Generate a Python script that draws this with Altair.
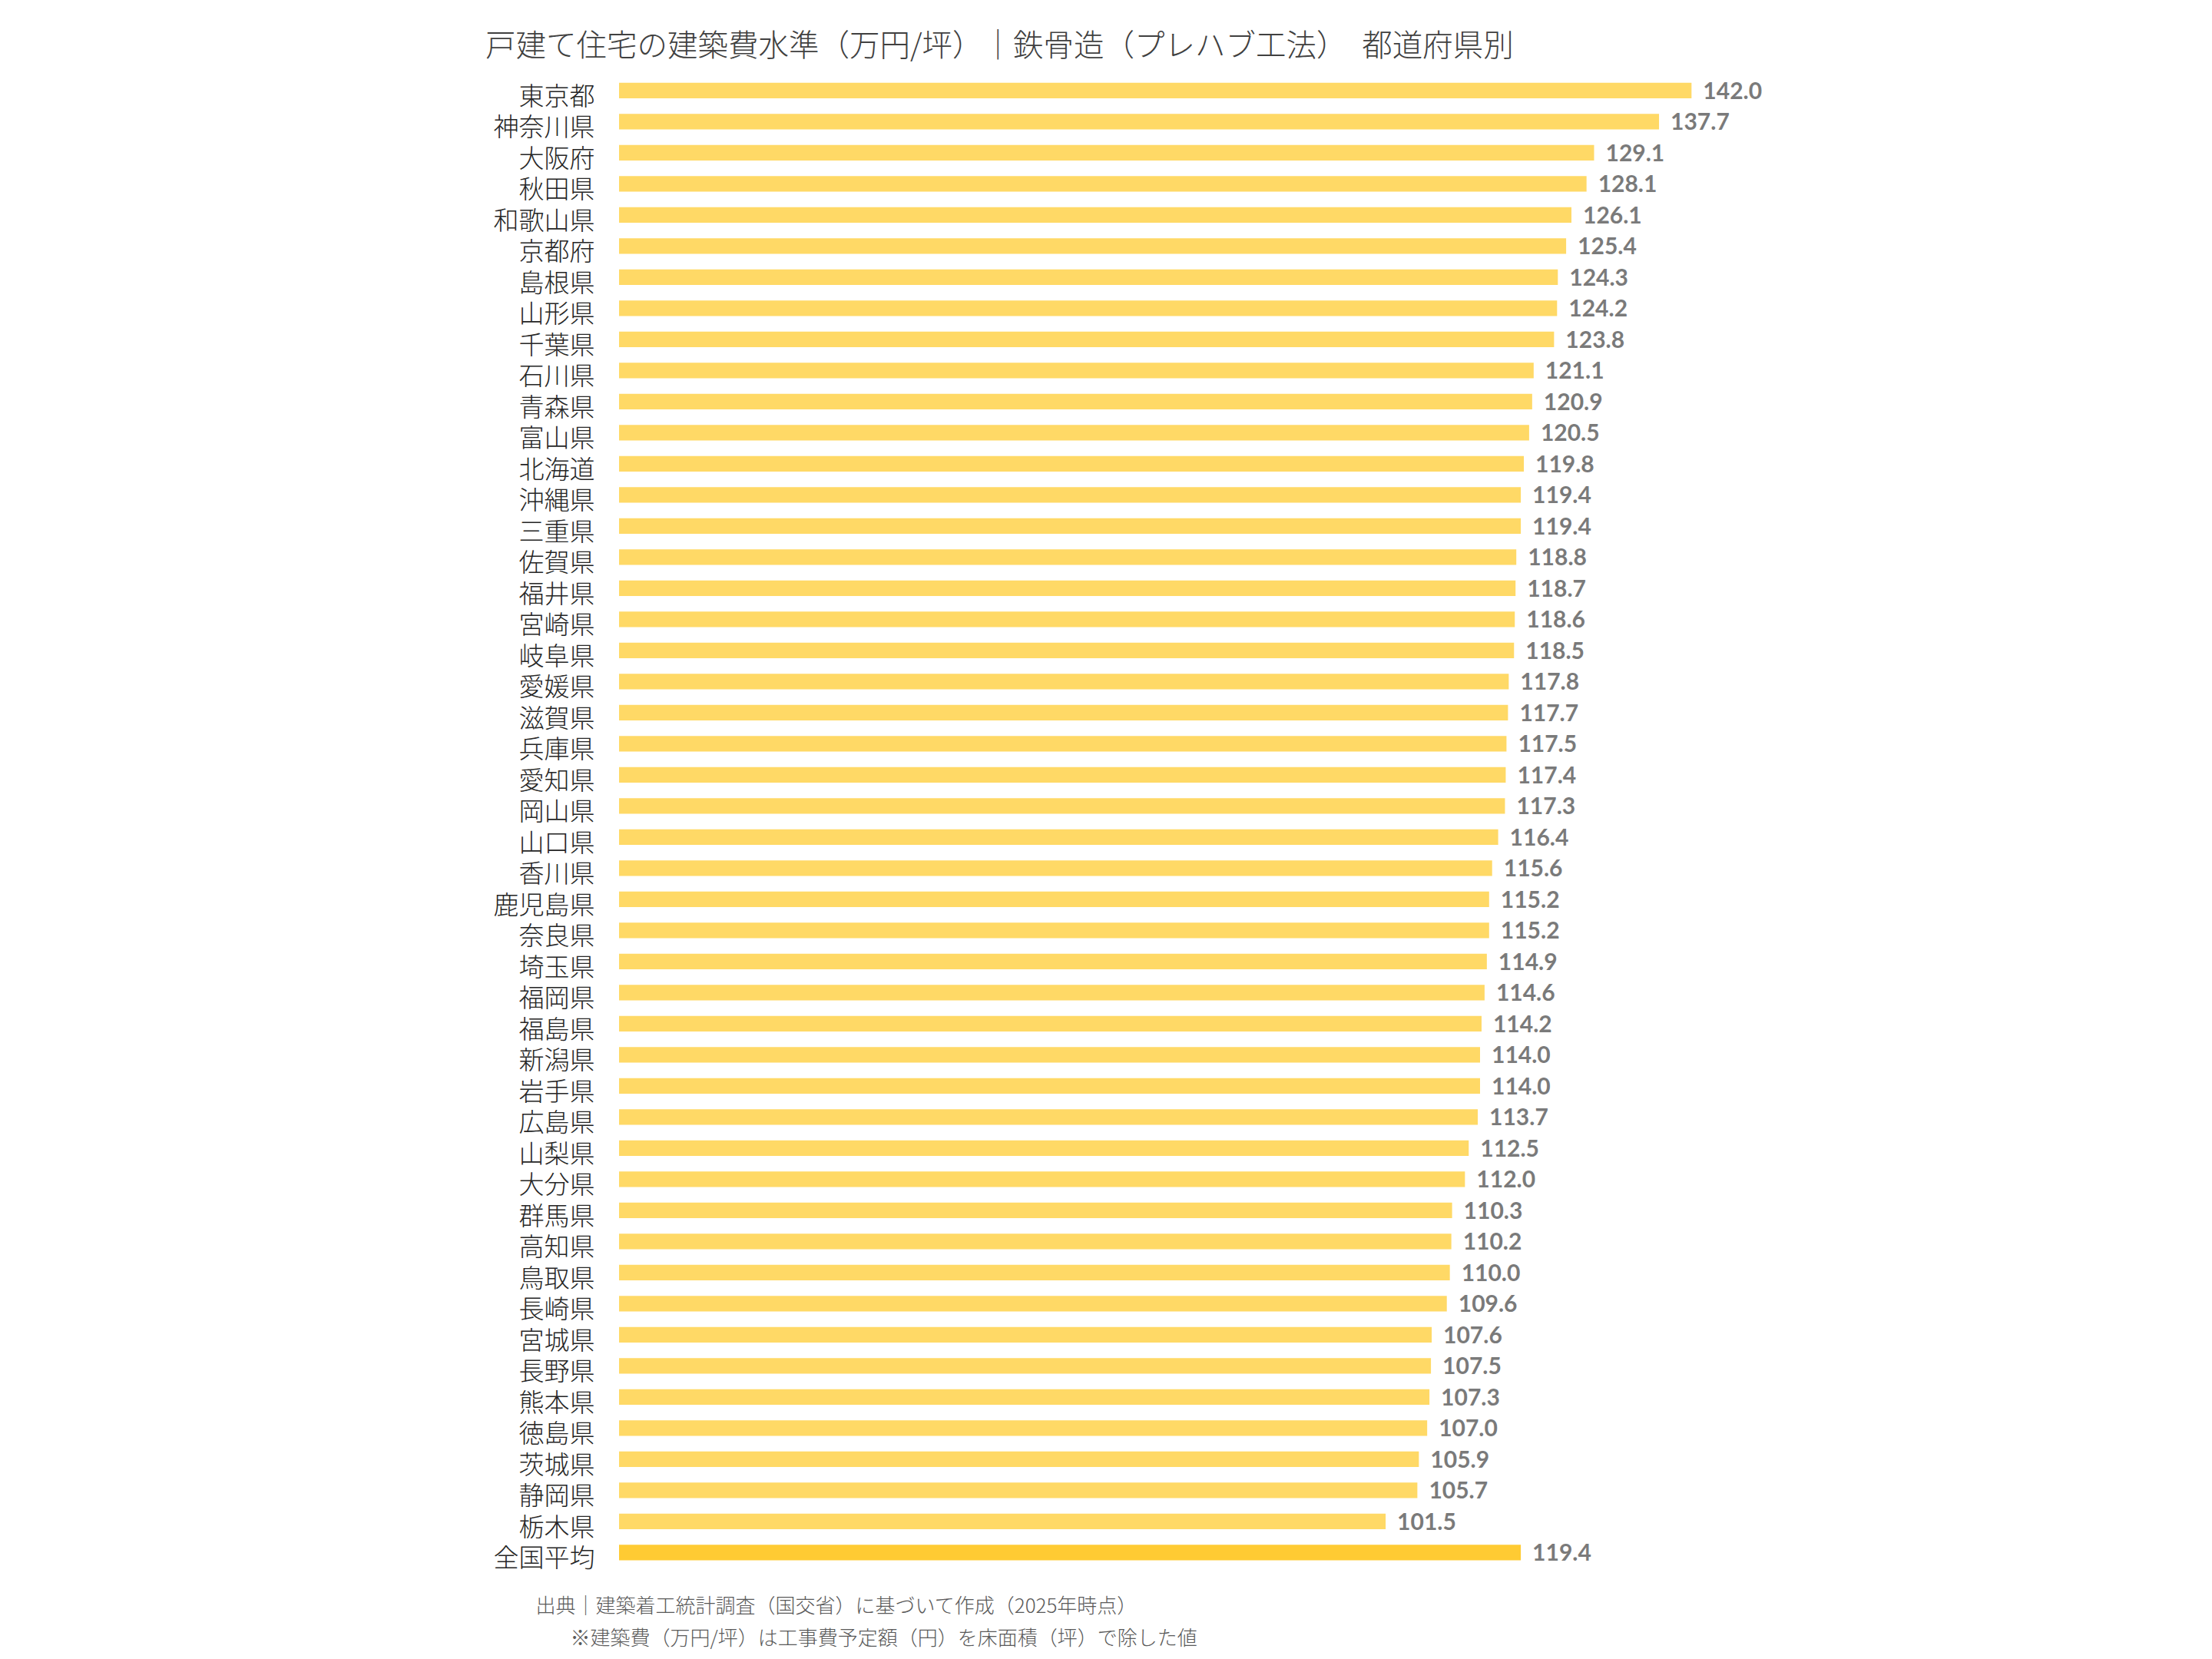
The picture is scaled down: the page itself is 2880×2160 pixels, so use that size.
import altair as alt
import pandas as pd

prefectures = [
    "東京都", "神奈川県", "大阪府", "秋田県", "和歌山県", "京都府", "島根県", "山形県",
    "千葉県", "石川県", "青森県", "富山県", "北海道", "沖縄県", "三重県", "佐賀県",
    "福井県", "宮崎県", "岐阜県", "愛媛県", "滋賀県", "兵庫県", "愛知県", "岡山県",
    "山口県", "香川県", "鹿児島県", "奈良県", "埼玉県", "福岡県", "福島県", "新潟県",
    "岩手県", "広島県", "山梨県", "大分県", "群馬県", "高知県", "鳥取県", "長崎県",
    "宮城県", "長野県", "熊本県", "徳島県", "茨城県", "静岡県", "栃木県", "全国平均",
]
values = [
    142.0, 137.7, 129.1, 128.1, 126.1, 125.4, 124.3, 124.2,
    123.8, 121.1, 120.9, 120.5, 119.8, 119.4, 119.4, 118.8,
    118.7, 118.6, 118.5, 117.8, 117.7, 117.5, 117.4, 117.3,
    116.4, 115.6, 115.2, 115.2, 114.9, 114.6, 114.2, 114.0,
    114.0, 113.7, 112.5, 112.0, 110.3, 110.2, 110.0, 109.6,
    107.6, 107.5, 107.3, 107.0, 105.9, 105.7, 101.5, 119.4,
]
groups = ["都道府県"] * 47 + ["全国平均"]

title_text = "戸建て住宅の建築費水準（万円/坪）｜鉄骨造（プレハブ工法）　都道府県別"
footer_line1 = "出典｜建築着工統計調査（国交省）に基づいて作成（2025年時点）"
footer_line2 = "※建築費（万円/坪）は工事費予定額（円）を床面積（坪）で除した値"

df = pd.DataFrame({"pref": prefectures, "value": values, "group": groups})
df["label"] = df["value"].map(lambda v: f"{v:.1f}")

JP = "Noto Sans CJK JP"
FOOT_COLOR = "#595959"

y_enc = alt.Y(
    "pref:N",
    sort=prefectures,
    scale=alt.Scale(paddingInner=0.5, paddingOuter=0.25),
    axis=alt.Axis(
        title=footer_line2,
        titleFont=JP,
        titleFontSize=26,
        titleFontWeight=300,
        titleColor=FOOT_COLOR,
        titleAngle=0,
        titleAlign="left",
        titleBaseline="top",
        titleX=-64,
        titleY=2023,
        ticks=False,
        domain=False,
        grid=False,
        labelFont=JP,
        labelFontSize=33,
        labelFontWeight=300,
        labelColor="#262626",
        labelPadding=32,
        labelOffset=9,
        labelLimit=400,
    ),
)

x_enc = alt.X(
    "value:Q",
    scale=alt.Scale(domain=[0, 150], nice=False, zero=True),
    axis=alt.Axis(
        title=footer_line1,
        labels=False,
        ticks=False,
        domain=False,
        grid=False,
        titleFont=JP,
        titleFontSize=26,
        titleFontWeight=300,
        titleColor=FOOT_COLOR,
        titleAnchor="start",
        titleAlign="left",
        titleBaseline="top",
        titleAngle=0,
        titleX=-109,
        titleY=37,
    ),
)

bars = alt.Chart(df).mark_bar().encode(
    y=y_enc,
    x=x_enc,
    color=alt.Color(
        "group:N",
        scale=alt.Scale(domain=["都道府県", "全国平均"], range=["#FFD966", "#FFCB33"]),
        legend=None,
    ),
)

labels = alt.Chart(df).mark_text(
    align="left",
    baseline="middle",
    dx=15,
    dy=2,
    font="Lato",
    fontWeight="bold",
    fontSize=30,
    color="#7A7A7A",
).encode(
    y=alt.Y("pref:N", sort=prefectures),
    x=alt.X("value:Q"),
    text="label:N",
)

chart = (
    alt.layer(bars, labels)
    .properties(
        width=1475,
        height=1944,
        padding={"left": 798, "top": 89.5, "right": 580, "bottom": 110},
        autosize=alt.AutoSizeParams(type="none"),
        background="white",
        title=alt.TitleParams(
            text=title_text,
            anchor="start",
            frame="group",
            dx=-174,
            offset=16,
            font=JP,
            fontSize=39.5,
            fontWeight=300,
            color="#404040",
        ),
    )
    .configure_view(stroke=None)
)

chart.save("out.html", embed_options={"renderer": "svg", "actions": False})
